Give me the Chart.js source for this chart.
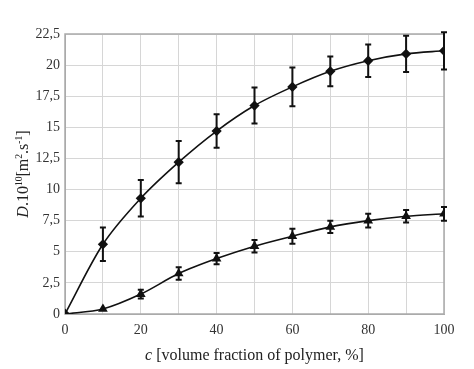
<!DOCTYPE html>
<html>
<head>
<meta charset="utf-8">
<script src="https://cdn.jsdelivr.net/npm/chart.js@4"></script>
<style>
  body { margin: 0; background: #fff; }
  #wrap { width: 474px; height: 369px; }
</style>
</head>
<body>
<div id="wrap"><canvas id="diffChart" width="474" height="369"></canvas></div>
<script>
// data
let concentration = [0, 10, 20, 30, 40, 50, 60, 70, 80, 90, 100];
let upperD   = [0, 5.6, 9.3, 12.2, 14.7, 16.75, 18.25, 19.5, 20.35, 20.9, 21.15];
let upperErr = [0, 1.35, 1.47, 1.7, 1.35, 1.45, 1.55, 1.2, 1.3, 1.45, 1.5];
let lowerD   = [0, 0.4, 1.6, 3.25, 4.45, 5.45, 6.25, 7.0, 7.5, 7.85, 8.05];
let lowerErr = [0, 0, 0.35, 0.5, 0.45, 0.5, 0.6, 0.5, 0.55, 0.5, 0.55];
let xLabelsShown = [0, 20, 40, 60, 80, 100];

const serif = "'Liberation Serif', 'DejaVu Serif', serif";

function toPoints(xs, ys) {
  return xs.map((x, i) => ({ x: x, y: ys[i] }));
}

// error bars, drawn through the scales
const errorBars = {
  id: "errorBars",
  afterDatasetsDraw(chart) {
    const ctx = chart.ctx;
    const xs = chart.scales.x, ys = chart.scales.y;
    ctx.save();
    ctx.strokeStyle = "#111";
    ctx.lineWidth = 2;
    chart.data.datasets.forEach(ds => {
      ds.errors.forEach((e, i) => {
        if (!e) return;
        const p = ds.data[i];
        const px = xs.getPixelForValue(p.x);
        const top = ys.getPixelForValue(p.y + e);
        const bot = ys.getPixelForValue(p.y - e);
        ctx.beginPath();
        ctx.moveTo(px, top); ctx.lineTo(px, bot);
        ctx.moveTo(px - 3, top); ctx.lineTo(px + 3, top);
        ctx.moveTo(px - 3, bot); ctx.lineTo(px + 3, bot);
        ctx.stroke();
      });
    });
    ctx.restore();
  }
};

// grey frame round the plot area
const frame = {
  id: "frame",
  beforeDatasetsDraw(chart) {
    const a = chart.chartArea, ctx = chart.ctx;
    ctx.save();
    ctx.strokeStyle = "#aaaaaa";
    ctx.lineWidth = 1.5;
    ctx.strokeRect(a.left, a.top, a.right - a.left, a.bottom - a.top);
    ctx.restore();
  }
};

// axis titles with italic symbol and superscripts
function drawRich(ctx, parts, x, y, size) {
  let widths = parts.map(p => {
    ctx.font = (p.italic ? "italic " : "") + (p.sup ? size * 0.6 : size) + "px " + serif;
    return ctx.measureText(p.t).width;
  });
  let total = widths.reduce((a, b) => a + b, 0);
  let cx = x - total / 2;
  parts.forEach((p, i) => {
    ctx.font = (p.italic ? "italic " : "") + (p.sup ? size * 0.6 : size) + "px " + serif;
    ctx.fillText(p.t, cx, p.sup ? y - size * 0.4 : y);
    cx += widths[i];
  });
}

const axisTitles = {
  id: "axisTitles",
  afterDraw(chart) {
    const ctx = chart.ctx;
    const area = chart.chartArea;
    ctx.save();
    ctx.fillStyle = "#222";
    ctx.textBaseline = "alphabetic";
    ctx.textAlign = "left";
    drawRich(ctx, [
      { t: "c", italic: true },
      { t: " [volume fraction of polymer, %]" }
    ], (area.left + area.right) / 2, 360, 16);

    ctx.translate(28, (area.top + area.bottom) / 2);
    ctx.rotate(-Math.PI / 2);
    drawRich(ctx, [
      { t: "D", italic: true },
      { t: ".10" },
      { t: "10", sup: true },
      { t: "[m" },
      { t: "2", sup: true },
      { t: ".s" },
      { t: "-1", sup: true },
      { t: "]" }
    ], 0, 0, 16);
    ctx.restore();
  }
};

new Chart(document.getElementById("diffChart"), {
  type: "line",
  data: {
    datasets: [
      {
        data: toPoints(concentration, upperD),
        errors: upperErr,
        borderColor: "#111",
        backgroundColor: "#111",
        borderWidth: 1.6,
        pointStyle: "rectRot",
        pointRadius: 4,
        tension: 0.3
      },
      {
        data: toPoints(concentration, lowerD),
        errors: lowerErr,
        borderColor: "#111",
        backgroundColor: "#111",
        borderWidth: 1.6,
        pointStyle: "triangle",
        pointRadius: 4,
        tension: 0.3
      }
    ]
  },
  options: {
    responsive: false,
    animation: false,
    layout: { padding: { top: 34, right: 30, left: 0, bottom: 0 } },
    plugins: { legend: { display: false }, tooltip: { enabled: false } },
    scales: {
      x: {
        type: "linear",
        min: 0, max: 100,
        afterFit(scale) { scale.height = 55; },
        ticks: {
          stepSize: 10,
          padding: 8,
          color: "#333",
          font: { family: serif, size: 14 },
          maxRotation: 0,
          autoSkip: false,
          callback: v => xLabelsShown.includes(v) ? String(v) : ""
        },
        grid: { color: "#d6d6d6", drawTicks: false },
        border: { color: "#aaaaaa" }
      },
      y: {
        min: 0, max: 22.5,
        afterFit(scale) { scale.width = 65; },
        ticks: {
          stepSize: 2.5,
          padding: 5,
          color: "#333",
          font: { family: serif, size: 14 },
          callback: v => String(v).replace(".", ",")
        },
        grid: { color: "#d6d6d6", drawTicks: false },
        border: { color: "#aaaaaa" }
      }
    }
  },
  plugins: [frame, errorBars, axisTitles]
});
</script>
</body>
</html>
